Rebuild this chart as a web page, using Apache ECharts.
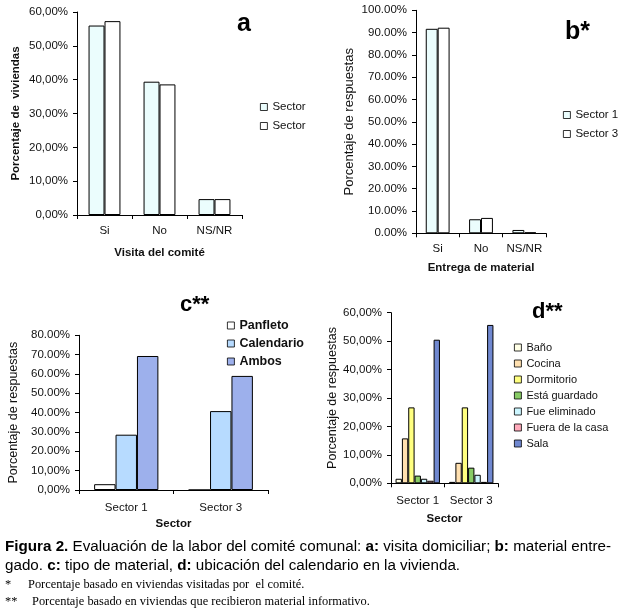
<!DOCTYPE html>
<html><head><meta charset="utf-8">
<script src="https://cdn.jsdelivr.net/npm/echarts@6/dist/echarts.min.js"></script>
<style>html,body{margin:0;padding:0;background:#fff}#c{width:621px;height:613px}</style>
</head><body><div id="c"></div>
<script>
// ---- Data ----
const catsA = ['Si', 'No', 'NS/NR'];
const a1 = [56.0, 39.4, 4.7];
const a2 = [57.3, 38.6, 4.7];
const yLabelsA = ['0,00%', '10,00%', '20,00%', '30,00%', '40,00%', '50,00%', '60,00%'];

const catsB = ['Si', 'No', 'NS/NR'];
const bSector1 = [91.7, 6.3, 1.5];
const bSector3 = [92.2, 6.9, 0.4];
const yLabelsB = ['0.00%', '10.00%', '20.00%', '30.00%', '40.00%', '50.00%', '60.00%', '70.00%', '80.00%', '90.00%', '100.00%'];

const catsC = ['Sector 1', 'Sector 3'];
const cPanfleto = [3.0, 0];
const cCalendario = [28.6, 40.8];
const cAmbos = [69.3, 59.0];
const yLabelsC = ['0,00%', '10,00%', '20.00%', '30.00%', '40.00%', '50.00%', '60.00%', '70.00%', '80.00%'];

const catsD = ['Sector 1', 'Sector 3'];
const dNames = ['Baño', 'Cocina', 'Dormitorio', 'Está guardado', 'Fue eliminado', 'Fuera de la casa', 'Sala'];
const dBano = [1.6, 0.5];
const dCocina = [15.8, 7.2];
const dDormitorio = [26.7, 26.7];
const dGuardado = [2.7, 5.5];
const dEliminado = [1.6, 3.0];
const dFuera = [0.9, 0.5];
const dSala = [50.5, 55.7];
const yLabelsD = ['0,00%', '10,00%', '20,00%', '30,00%', '40,00%', '50,00%', '60,00%'];

// ---- Styles ----
const FONT = 'Liberation Sans, Arial, sans-serif';
const SERIF = 'Liberation Serif, serif';
const colorsA = ['#EBFDFD', '#FFFFFF'];
const colorsC = ['#FFFFFF', '#B7DBFF', '#9DB0EC'];
const colorsD = ['#FFFFE6', '#FFE0B0', '#FFFF80', '#88CC66', '#CCF6FF', '#FFAABB', '#7088D0'];

function xAxis(gi, cats, name, nameGap, margin) {
  return {
    type: 'category', gridIndex: gi, data: cats,
    axisLine: {lineStyle: {color: '#000', width: 1}},
    axisTick: {show: true, length: 4, lineStyle: {color: '#000'}},
    axisLabel: {color: '#111', fontFamily: FONT, fontSize: 11.5, margin: margin, interval: 0},
    name: name, nameLocation: 'middle', nameGap: nameGap,
    nameTextStyle: {color: '#111', fontFamily: FONT, fontSize: 11.5, fontWeight: 'bold'}
  };
}
function yAxis(gi, labels, interval, name, nameGap, bold, nsize) {
  return {
    type: 'value', gridIndex: gi, min: 0, max: interval * (labels.length - 1), interval: interval,
    axisLine: {show: true, lineStyle: {color: '#000', width: 1}},
    axisTick: {show: true, length: 4, lineStyle: {color: '#000'}},
    splitLine: {show: false},
    axisLabel: {color: '#111', fontFamily: FONT, fontSize: 11.5, margin: 9,
      formatter: v => labels[Math.round(v / interval)]},
    name: name, nameLocation: 'middle', nameGap: nameGap,
    nameTextStyle: {color: '#111', fontFamily: FONT, fontSize: nsize, fontWeight: bold ? 'bold' : 'normal'}
  };
}
function bar(name, data, gi, color, catGap) {
  return {
    type: 'bar', name: name, data: data, xAxisIndex: gi, yAxisIndex: gi,
    barGap: '0%', barCategoryGap: catGap,
    itemStyle: {color: color, borderColor: '#000', borderWidth: 1},
    emphasis: {disabled: true}, animation: false
  };
}

const chart = echarts.init(document.getElementById('c'));
const legendBase = {orient: 'vertical', icon: 'rect', itemWidth: 7, itemHeight: 7,
  itemStyle: {borderWidth: 0.8, borderColor: '#000'},
  textStyle: {color: '#111', fontFamily: FONT, fontSize: 11.5}, selectedMode: false};

const option = {
  backgroundColor: '#fff',
  animation: false,
  grid: [
    {left: 77, top: 12, width: 165, height: 203},
    {left: 416, top: 10.3, width: 130, height: 223},
    {left: 79, top: 335.3, width: 189, height: 154.7},
    {left: 391, top: 312.7, width: 107, height: 170.6}
  ],
  xAxis: [
    xAxis(0, catsA, 'Visita del comité', 32, 10),
    xAxis(1, catsB, 'Entrega de material', 29, 10),
    xAxis(2, catsC, 'Sector', 28, 12),
    xAxis(3, catsD, 'Sector', 30, 12)
  ],
  yAxis: [
    yAxis(0, yLabelsA, 10, 'Porcentaje de  viviendas', 55, true, 11.5),
    yAxis(1, yLabelsB, 10, 'Porcentaje de respuestas', 60, false, 13),
    yAxis(2, yLabelsC, 10, 'Porcentaje de respuestas', 59, false, 12.5),
    yAxis(3, yLabelsD, 10, 'Porcentaje de respuestas', 50, false, 12.5)
  ],
  legend: [
    Object.assign({}, legendBase, {data: ['a1', 'a2'], left: 255, top: 96, itemGap: 7,
      formatter: () => 'Sector'}),
    Object.assign({}, legendBase, {data: ['Sector 1', 'Sector 3'], left: 558, top: 104, itemGap: 7}),
    Object.assign({}, legendBase, {data: ['Panfleto', 'Calendario', 'Ambos'], left: 222, top: 314, itemGap: 5,
      textStyle: {color: '#111', fontFamily: FONT, fontSize: 12.5, fontWeight: 'bold'}}),
    Object.assign({}, legendBase, {data: dNames, left: 509, top: 337, itemGap: 5,
      textStyle: {color: '#111', fontFamily: FONT, fontSize: 11}})
  ],
  series: [
    bar('a1', a1, 0, colorsA[0], '42%'),
    bar('a2', a2, 0, colorsA[1], '42%'),
    bar('Sector 1', bSector1, 1, colorsA[0], '45%'),
    bar('Sector 3', bSector3, 1, colorsA[1], '45%'),
    bar('Panfleto', cPanfleto, 2, colorsC[0], '32%'),
    bar('Calendario', cCalendario, 2, colorsC[1], '32%'),
    bar('Ambos', cAmbos, 2, colorsC[2], '32%'),
    bar(dNames[0], dBano, 3, colorsD[0], '17%'),
    bar(dNames[1], dCocina, 3, colorsD[1], '17%'),
    bar(dNames[2], dDormitorio, 3, colorsD[2], '17%'),
    bar(dNames[3], dGuardado, 3, colorsD[3], '17%'),
    bar(dNames[4], dEliminado, 3, colorsD[4], '17%'),
    bar(dNames[5], dFuera, 3, colorsD[5], '17%'),
    bar(dNames[6], dSala, 3, colorsD[6], '17%')
  ],
  graphic: [
    {type: 'text', left: 237, top: 12, style: {text: 'a', font: 'bold 25px ' + FONT, fill: '#000'}},
    {type: 'text', left: 565, top: 20, style: {text: 'b*', font: 'bold 25px ' + FONT, fill: '#000'}},
    {type: 'text', left: 180, top: 294, style: {text: 'c**', font: 'bold 22px ' + FONT, fill: '#000'}},
    {type: 'text', left: 532, top: 301, style: {text: 'd**', font: 'bold 22px ' + FONT, fill: '#000'}},
    {type: 'text', left: 5, top: 537, style: {
      text: '{b|Figura 2.} Evaluación de la labor del comité comunal: {b|a:} visita domiciliar; {b|b:} material entre-\ngado. {b|c:} tipo de material, {b|d:} ubicación del calendario en la vivienda.',
      font: '15.2px ' + FONT, fill: '#000', lineHeight: 19,
      rich: {b: {fontWeight: 'bold', fontSize: 15.2, fontFamily: FONT, fill: '#000'}}
    }},
    {type: 'text', left: 5, top: 579, style: {text: '*', font: '12.4px ' + SERIF, fill: '#000'}},
    {type: 'text', left: 28, top: 579, style: {text: 'Porcentaje basado en viviendas visitadas por  el comité.', font: '12.4px ' + SERIF, fill: '#000'}},
    {type: 'text', left: 5, top: 596, style: {text: '**', font: '12.4px ' + SERIF, fill: '#000'}},
    {type: 'text', left: 32, top: 596, style: {text: 'Porcentaje basado en viviendas que recibieron material informativo.', font: '12.4px ' + SERIF, fill: '#000'}}
  ]
};
chart.setOption(option);
</script>
</body></html>
